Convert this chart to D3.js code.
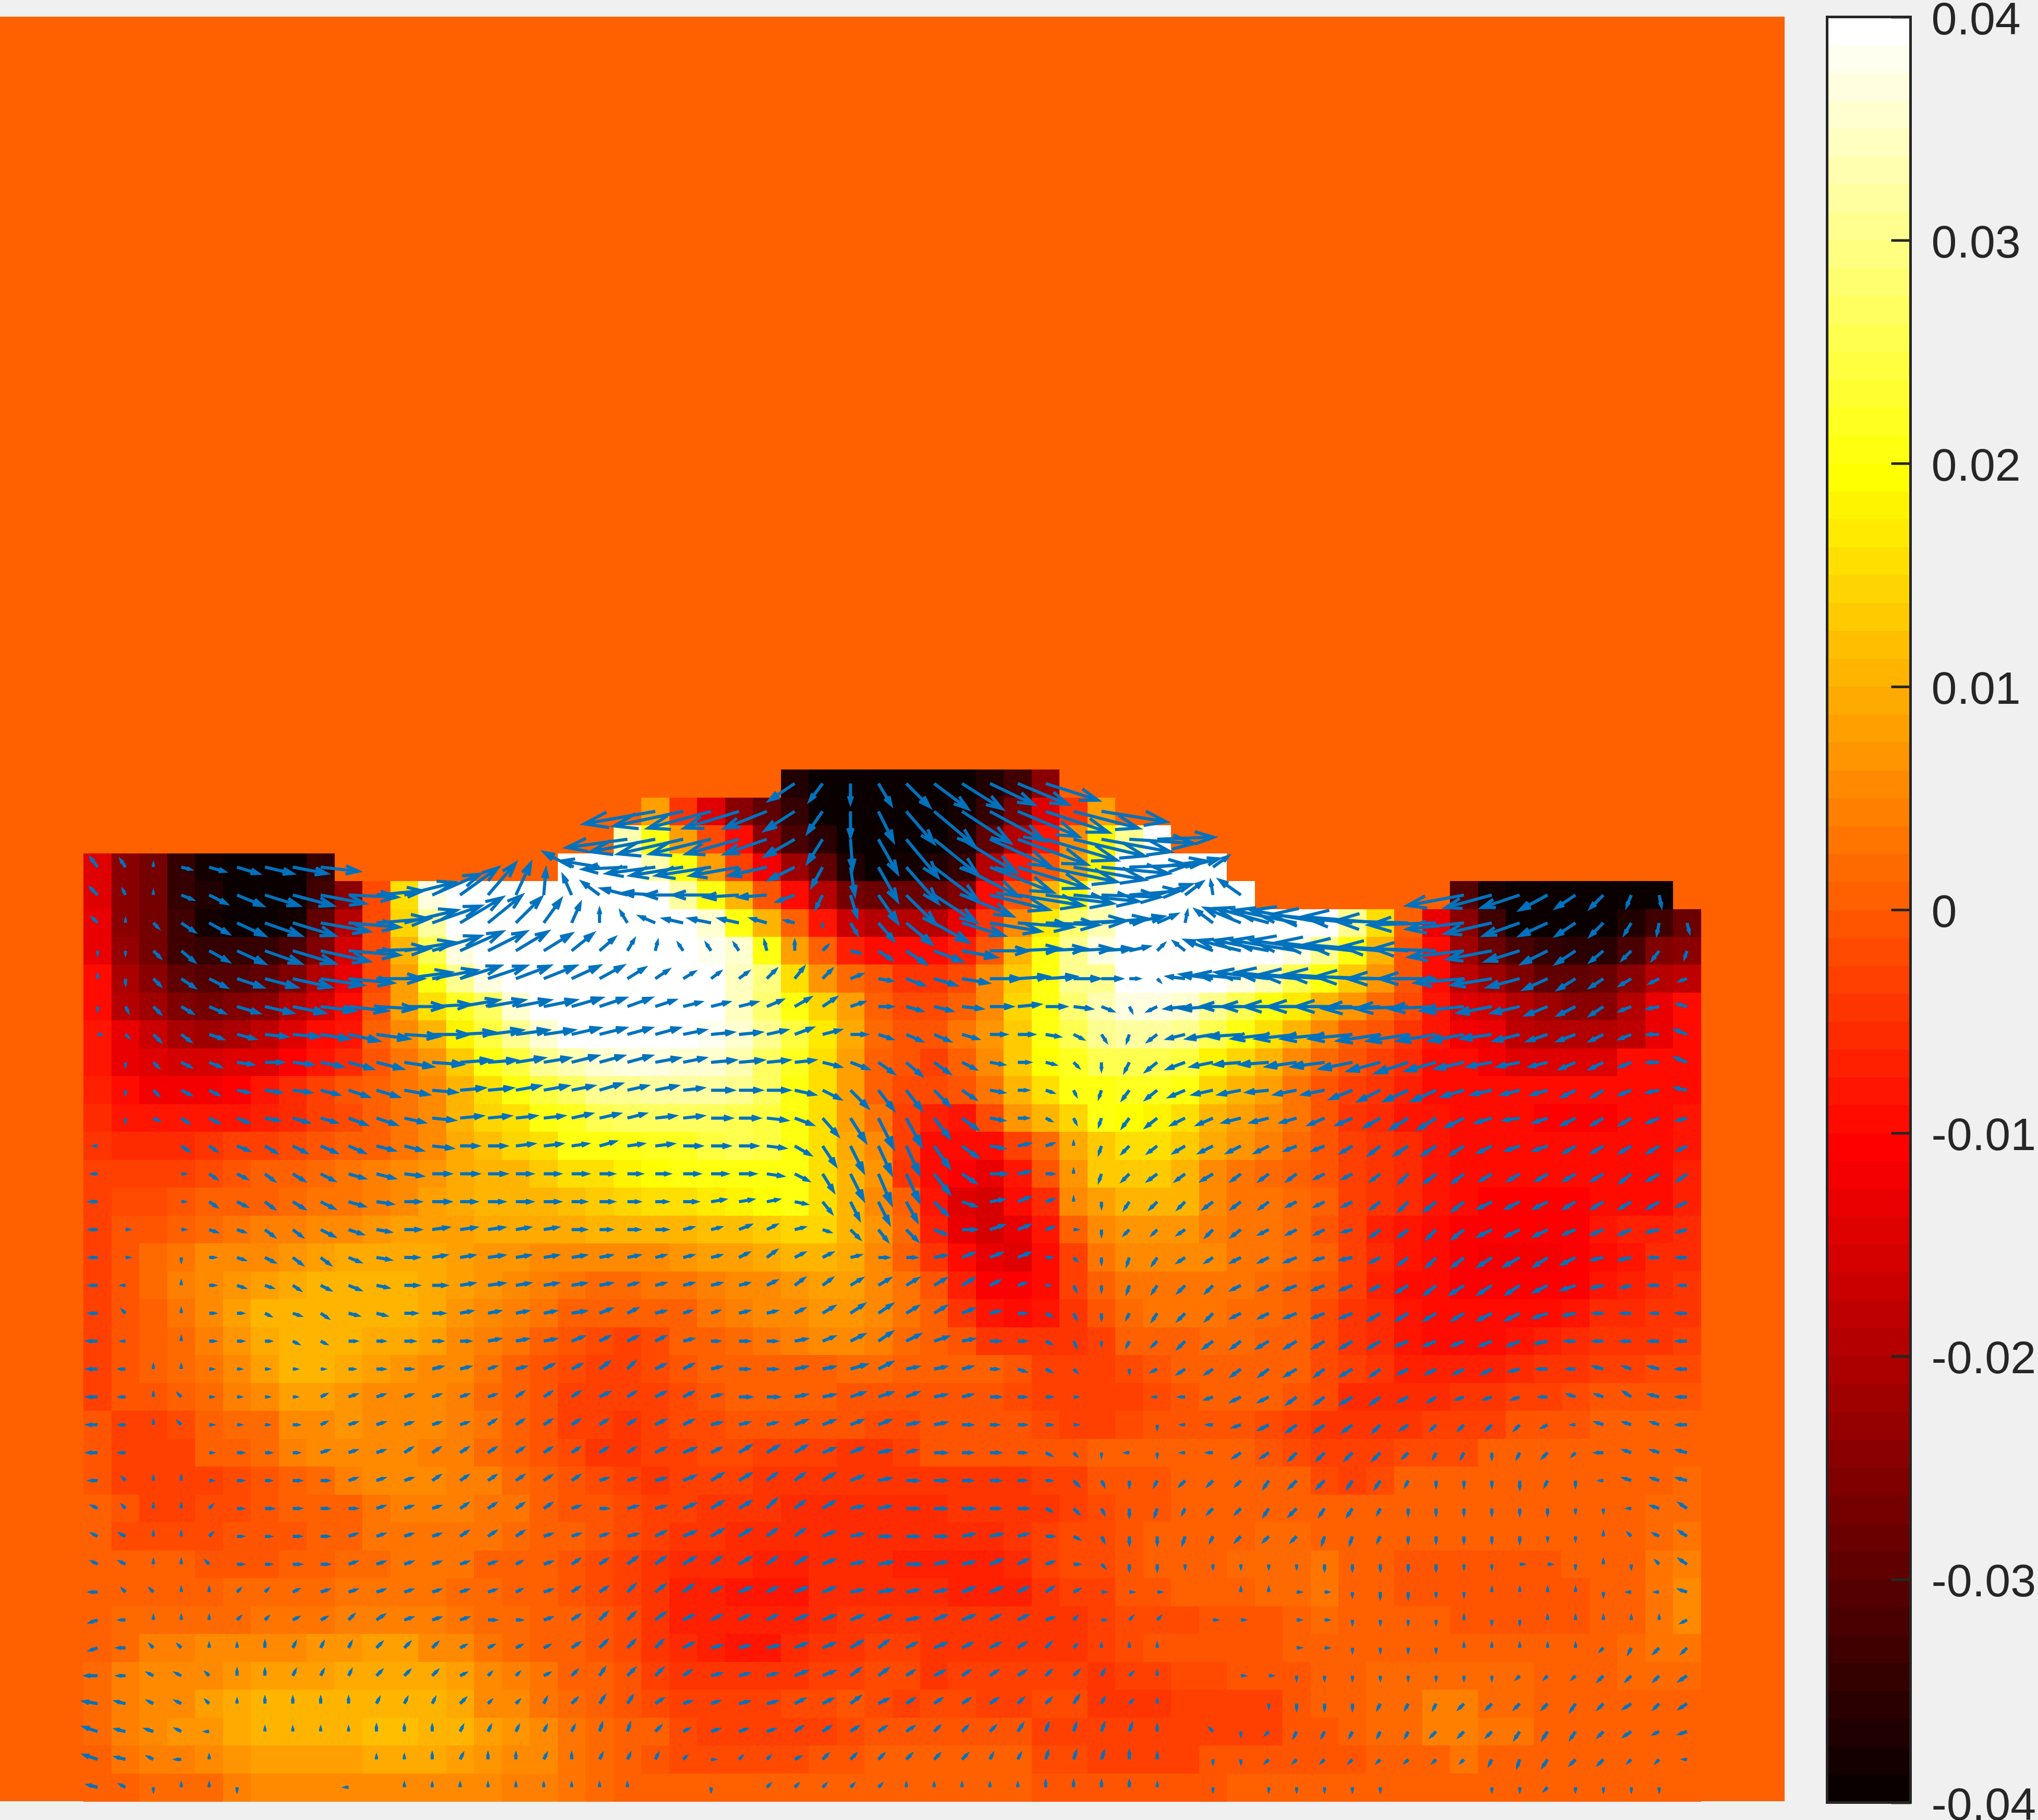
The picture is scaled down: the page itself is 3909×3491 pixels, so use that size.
<!DOCTYPE html>
<html>
<head>
<meta charset="utf-8">
<title>Field with quiver</title>
<script src="https://cdn.jsdelivr.net/npm/d3@7"></script>
<style>
    body { margin: 0; background: #f0f0f0; }
    svg { display: block; }
</style>
</head>
<body>
<svg id="chart"></svg>
<script>
// colorbar ticks
var cbTicks = [-0.04, -0.03, -0.02, -0.01, 0, 0.01, 0.02, 0.03, 0.04];
var cbLabels = ['-0.04', '-0.03', '-0.02', '-0.01', '0', '0.01', '0.02', '0.03', '0.04'];

// grid is 64x64, the rows below are grid rows 27..63, columns 3..60
var gridSize = 64;
var firstRow = 27;
var firstCol = 3;

// field values, in thousandths
var fieldRows = [
[0,0,0,0,0,0,0,0,0, 0,0,0,0,0,0,0,0, 0,0,0,0,0,0,0,0, -37,-39,-40,-40,-40,-40,-39,-37,-33,-25, 0,0,0,0,0,0,0, 0,0,0,0,0,0,0, 0,0,0,0,0,0,0,0,0],
[0,0,0,0,0,0,0,0,0, 0,0,0,0,0,0,0,0, 0,0,0,8,-4,-14,-24,-30, -35,-39,-40,-40,-40,-40,-38,-35,-27,-14, -4,8,0,0,0,0,0, 0,0,0,0,0,0,0, 0,0,0,0,0,0,0,0,0],
[0,0,0,0,0,0,0,0,0, 0,0,0,0,0,0,0,0, 0,0,33,20,8,-2,-10,-24, -32,-36,-40,-40,-40,-40,-37,-30,-20,-8, 5,18,31,40,0,0,0, 0,0,0,0,0,0,0, 0,0,0,0,0,0,0,0,0],
[-14,-24,-27,-35,-38,-40,-40,-40,-35, 0,0,0,0,0,0,0,0, 40,40,40,33,20,8,-3,-12, -22,-29,-37,-39,-38,-37,-34,-20,-8,-1, 8,18,40,40,40,40,0, 0,0,0,0,0,0,0, 0,0,0,0,0,0,0,0,0],
[-14,-24,-27,-35,-37,-40,-40,-39,-33, -24,-2,16,37,40,40,40,40, 40,40,40,40,32,20,10,-1, -10,-19,-27,-28,-28,-28,-26,-10,-1,10, 19,34,40,40,40,40,40, 0,0,0,0,0,0,0, -31,-38,-40,-40,-40,-40,-40,-40,0],
[-13,-24,-27,-33,-38,-40,-39,-38,-30, -19,-2,14,32,40,40,40,40, 40,40,40,40,40,35,20,10, 0,-8,-17,-20,-20,-20,-13,-4,5,17, 28,33,40,40,40,40,40, 40,40,40,30,16,0,-13, -25,-33,-40,-40,-40,-39,-37,-33,-28],
[-13,-23,-27,-33,-35,-35,-34,-32,-26, -16,-2,11,25,37,40,40,40, 40,40,40,40,40,38,35,20, 8,0,-7,-9,-10,-10,-7,-1,10,20, 30,37,40,40,40,40,40, 40,37,30,20,10,-1,-10, -22,-28,-32,-35,-36,-36,-32,-26,-24],
[-10,-21,-24,-29,-31,-31,-29,-26,-20, -13,-2,8,20,30,37,40,40, 40,40,40,40,40,40,34,29, 16,7,2,-1,-4,-4,-2,5,13,21, 30,31,40,40,40,40,37, 33,25,21,13,7,-1,-9, -18,-22,-26,-29,-30,-28,-24,-19,-18],
[-10,-20,-22,-26,-27,-26,-24,-20,-16, -10,-1,8,15,22,27,35,40, 40,40,40,40,40,40,34,28, 21,14,8,0,-2,-2,1,6,14,21, 28,33,37,37,35,31,25, 20,17,11,7,2,-2,-8, -14,-16,-20,-22,-24,-24,-19,-13,-10],
[-8,-13,-17,-21,-22,-21,-18,-14,-10, -8,0,5,11,18,24,30,35, 40,40,40,40,40,38,35,30, 24,17,9,2,-1,-1,3,7,13,20, 26,31,32,32,31,25,20, 15,10,5,1,-1,-4,-8, -12,-13,-18,-20,-20,-20,-18,-13,-10],
[-8,-13,-14,-16,-16,-15,-14,-11,-8, -6,-1,3,7,13,20,24,30, 33,35,37,37,36,36,33,27, 22,16,8,1,-1,-3,0,5,13,19, 22,25,26,26,24,18,14, 11,6,2,-1,-3,-6,-9, -10,-12,-14,-14,-14,-14,-10,-10,-9],
[-7,-10,-12,-12,-12,-11,-8,-6,-3, -1,1,3,6,11,16,21,24, 27,31,31,32,32,32,30,27, 21,16,8,1,-2,-2,-1,3,11,16, 21,21,22,22,20,14,11, 8,3,-1,-3,-5,-7,-9, -9,-10,-10,-10,-10,-10,-10,-10,-9],
[-6,-8,-8,-8,-8,-8,-7,-6,-3, -2,0,3,5,10,14,16,20, 22,25,27,27,27,27,26,24, 20,16,8,3,-3,-7,-8,-2,7,10, 14,20,19,18,15,10,8, 5,3,-1,-4,-6,-8,-8, -9,-10,-10,-11,-11,-11,-10,-9,-8],
[-4,-6,-6,-6,-5,-3,-3,-2,-1, 0,1,3,5,9,12,14,16, 20,20,21,22,22,24,25,24, 21,16,9,5,-3,-9,-10,-9,-3,2, 9,13,15,15,13,9,7, 4,2,-1,-3,-5,-6,-8, -9,-10,-10,-10,-10,-10,-10,-9,-8],
[-3,-3,-3,-3,-2,-1,0,1,2, 3,4,5,7,9,10,11,13, 15,16,18,19,20,21,21,21, 21,16,10,7,-5,-9,-11,-13,-8,-1, 7,13,13,13,10,6,3, 2,1,-1,-3,-5,-6,-8, -9,-10,-10,-10,-10,-10,-10,-9,-7],
[-3,-2,-2,-1,0,0,1,2,3, 3,4,6,8,9,10,10,11, 12,13,14,15,16,17,18,19, 20,15,10,6,0,-8,-14,-16,-10,-6, 5,8,10,10,10,5,3, 3,2,0,-3,-4,-6,-8, -10,-11,-11,-11,-11,-10,-10,-9,-7],
[-3,-1,-1,1,2,3,4,4,5, 6,7,8,8,8,9,9,9, 9,10,10,11,11,12,12,13, 14,14,11,7,2,-7,-13,-16,-13,-8, 0,5,7,7,7,4,3, 3,2,-1,-3,-7,-8,-10, -11,-11,-11,-11,-11,-8,-7,-7,-6],
[-3,-1,2,3,5,6,6,7,8, 9,9,9,9,8,7,7,6, 6,6,6,6,7,8,8,9, 10,10,9,6,1,-4,-10,-13,-14,-10, -3,3,5,6,6,5,3, 3,2,0,-3,-6,-8,-10, -11,-12,-12,-12,-11,-9,-8,-6,-6],
[-3,-1,2,4,6,7,8,9,10, 10,10,10,9,8,7,5,4, 3,2,2,3,3,4,5,6, 7,8,8,6,3,-1,-7,-11,-11,-9, -3,1,3,3,3,3,3, 2,1,-1,-3,-7,-9,-10, -11,-11,-11,-11,-11,-8,-7,-6,-5],
[-3,-1,1,3,6,8,10,10,10, 10,10,10,9,7,6,4,3, 1,0,0,0,1,3,4,5, 6,7,7,5,3,0,-5,-8,-9,-8, -4,-1,2,3,3,3,2, 2,1,-2,-4,-6,-8,-10, -10,-10,-10,-9,-8,-6,-6,-5,-4],
[-3,-1,1,2,4,7,9,10,10, 10,9,9,8,6,4,3,1, -1,-2,-3,-2,0,1,2,3, 4,5,5,4,2,0,-1,-4,-5,-5, -5,-3,0,1,1,2,2, 1,0,-2,-4,-6,-8,-9, -9,-9,-8,-7,-6,-5,-5,-4,-3],
[-3,-1,0,2,3,6,8,10,11, 9,8,7,6,5,3,1,-1, -2,-3,-3,-2,-1,0,0,0, 0,1,2,2,1,0,0,0,-1,-3, -3,-3,-2,-1,0,1,1, 1,0,-2,-3,-5,-7,-7, -7,-7,-6,-5,-4,-3,-3,-2,-2],
[-3,-1,-1,0,2,4,6,8,8, 7,6,6,5,4,2,1,-1, -3,-3,-3,-3,-2,-1,0,0, 0,0,-1,-1,-1,-1,-1,-1,-2,-3, -3,-3,-3,-2,-1,0,0, 0,-1,-2,-6,-6,-6,-6, -4,-4,-3,-3,-2,-1,-1,-1,-1],
[-1,-3,-3,-2,1,2,2,5,6, 7,6,6,5,4,3,1,-1, -3,-3,-4,-3,-2,-2,-1,-1, -1,-1,-1,-2,-2,-1,-1,-1,-1,-2, -3,-3,-2,-1,-1,-1,-1, -2,-3,-4,-4,-4,-4,-3, -3,-3,-1,-1,-1,0,0,1,1],
[-1,-3,-3,-3,1,1,2,4,5, 5,5,5,4,4,2,1,-1, -2,-4,-4,-3,-3,-2,-2,-3, -3,-3,-4,-4,-3,-1,-1,-1,-1,-1, -1,0,0,0,0,0,0, -1,-2,-3,-3,-3,-2,-2, -2,0,1,1,1,1,1,1,1],
[-1,-3,-3,-3,-3,-2,-1,1,2, 4,5,5,5,4,4,2,1, -1,-2,-3,-4,-3,-3,-3,-4, -4,-5,-5,-5,-5,-4,-4,-4,-4,-3, -3,-1,-1,-1,1,1,1, 1,0,-2,-3,-2,0,0, 0,0,0,0,0,0,0,1,2],
[0,-1,-3,-3,-2,-2,-1,0,1, 1,3,4,4,4,3,3,1, -1,-1,-2,-3,-3,-4,-4,-4, -6,-6,-6,-6,-6,-6,-5,-5,-5,-4, -3,-2,-1,-1,0,0,1, 1,1,0,0,0,0,0, 0,0,0,0,0,1,1,2,2],
[1,-2,-2,-2,-2,-1,-1,-1,1, 1,3,3,3,3,3,2,1, 0,-1,-2,-3,-4,-5,-6,-6, -6,-6,-6,-6,-6,-6,-6,-6,-4,-3, -2,-2,-1,0,0,1,1, 2,2,1,1,1,0,0, 0,0,0,0,0,1,1,2,3],
[0,1,1,1,-1,-1,-1,1,1, 2,2,3,3,3,1,1,0, -1,-2,-3,-4,-6,-6,-6,-7, -7,-6,-6,-6,-7,-7,-7,-7,-6,-3, -2,-2,-1,0,0,1,2, 2,2,3,1,1,-1,-1, -1,-1,-1,-1,0,0,1,3,4],
[0,1,1,1,1,2,2,2,2, 3,3,3,3,2,2,1,1, -1,-2,-3,-5,-7,-7,-8,-8, -8,-6,-6,-6,-6,-6,-7,-7,-7,-5, -3,-3,-1,-1,0,0,1, 2,2,3,1,0,-1,-1, -1,-1,-1,-1,-1,0,1,3,5],
[1,2,2,2,2,2,3,3,3, 4,4,4,4,3,2,2,1, 0,-1,-2,-4,-7,-7,-7,-7, -7,-6,-5,-5,-5,-5,-5,-5,-5,-5, -4,-3,-2,-2,-2,-1,-1, -1,0,2,1,1,1,1, -1,-1,-1,-1,-1,1,1,3,5],
[1,2,4,4,5,5,5,6,7, 7,8,8,6,5,3,2,1, 0,-1,-2,-4,-6,-7,-8,-8, -6,-5,-4,-3,-3,-4,-4,-4,-4,-4, -4,-3,-2,-1,-1,-1,-1, -1,1,1,1,1,0,0, 0,0,0,0,0,1,2,3,3],
[2,4,5,5,6,7,8,8,8, 9,9,9,9,8,5,4,3, 1,0,-1,-3,-4,-5,-5,-5, -4,-3,-3,-2,-2,-4,-3,-3,-3,-3, -3,-4,-3,-3,-2,-2,-1, -1,-1,1,1,2,2,2, 2,2,2,1,1,0,2,2,2],
[2,4,5,6,8,9,10,10,10, 11,11,11,11,9,6,5,3, 2,0,-1,-2,-3,-3,-3,-3, -2,-2,-1,-2,-3,-2,-2,-3,-3,-2, -2,-4,-4,-4,-3,-3,-3, -3,-1,0,1,2,2,4, 4,2,2,1,1,0,0,0,0],
[2,4,5,7,7,9,10,10,11, 11,12,12,10,10,8,7,6, 3,2,1,0,-2,-3,-3,-3, -3,-3,-2,-1,-1,-1,-1,-1,-1,-3, -3,-3,-3,-3,-3,-3,-3, -3,-1,-1,1,2,2,4, 4,3,3,1,1,0,0,0,0],
[1,3,4,4,6,7,8,8,8, 8,9,9,9,8,7,6,6, 3,2,0,-1,-2,-2,-2,-2, -2,-1,-1,0,0,0,0,0,0,-2, -2,-3,-3,-3,-3,-1,-1, -1,-1,-1,-1,0,0,1, 3,1,1,1,0,0,0,0,0],
[0,1,2,2,2,4,5,5,5, 5,5,5,5,5,5,4,4, 3,2,1,1,1,1,0,0, 0,0,0,0,0,0,0,0,0,-1, -1,-1,-1,-1,-1,-1,0, 0,0,0,0,0,1,1, 1,1,1,1,1,0,0,0,0]
];

// horizontal velocity
var uRows = [
[0,0,0,0,0,0,0,0,0, 0,0,0,0,0,0,0,0, 0,0,0,0,0,0,0,0, -12,-6,0,6,11,16,19,21,24,25, 0,0,0,0,0,0,0, 0,0,0,0,0,0,0, 0,0,0,0,0,0,0,0,0],
[0,0,0,0,0,0,0,0,0, 0,0,0,0,0,0,0,0, 0,0,0,-34,-33,-30,-26,-20, -14,-7,0,7,13,19,23,26,29,30, 31,31,0,0,0,0,0, 0,0,0,0,0,0,0, 0,0,0,0,0,0,0,0,0],
[0,0,0,0,0,0,0,0,0, 0,0,0,0,0,0,0,0, 0,0,-29,-31,-31,-29,-25,-20, -14,-7,1,9,15,21,26,29,33,34, 34,33,31,27,0,0,0, 0,0,0,0,0,0,0, 0,0,0,0,0,0,0,0,0],
[-3,-2,0,4,7,10,13,16,18, 0,0,0,0,0,0,0,0, -13,-18,-21,-23,-25,-26,-23,-18, -12,-5,2,9,15,21,27,30,33,34, 34,32,28,23,16,7,0, 0,0,0,0,0,0,0, 0,0,0,0,0,0,0,0,0],
[-3,-1,0,5,8,12,16,19,21, 23,22,24,23,18,13,7,1, -4,-8,-12,-15,-18,-18,-16,-13, -8,-3,3,9,14,20,24,28,31,32, 31,28,24,16,8,-1,-10, 0,0,0,0,0,0,0, -27,-22,-18,-13,-9,-6,-2,1,0],
[-2,0,2,6,9,13,17,20,23, 24,25,25,23,20,16,12,8, 4,0,-3,-7,-9,-10,-9,-7, -4,0,3,7,12,16,20,24,26,25, 25,22,16,9,1,-8,-17, -25,-30,-35,-39,-37,-35,-32, -27,-22,-17,-13,-9,-6,-3,-1,1],
[0,0,3,6,9,13,17,20,23, 24,25,24,23,20,18,15,13, 10,7,3,1,-2,-2,-2,-1, 0,2,4,6,9,13,16,18,20,19, 18,14,9,3,-5,-13,-20, -26,-31,-35,-36,-36,-32,-30, -26,-21,-16,-12,-9,-6,-4,-3,-1],
[0,0,3,6,8,12,15,18,20, 21,22,22,21,19,18,16,15, 13,11,8,6,5,4,4,4, 4,4,5,6,8,10,12,14,14,14, 12,9,4,1,-8,-15,-21, -25,-29,-31,-32,-31,-29,-27, -23,-19,-15,-11,-8,-6,-5,-4,-3],
[0,1,3,5,7,10,13,15,16, 18,18,19,18,18,17,16,15, 14,12,11,9,8,8,8,7, 7,6,6,6,7,8,9,10,10,9, 8,5,1,-4,-9,-15,-19, -22,-25,-27,-27,-27,-25,-22, -20,-16,-13,-10,-8,-6,-5,-5,-4],
[1,1,3,4,6,8,10,12,13, 14,15,16,17,16,16,15,14, 13,12,11,11,10,10,10,9, 8,8,7,6,7,7,7,7,7,6, 4,2,-1,-4,-8,-12,-15, -17,-19,-20,-20,-20,-19,-18, -16,-14,-12,-9,-8,-6,-5,-5,-5],
[0,0,2,4,5,7,8,9,10, 11,12,13,14,14,13,13,12, 12,11,11,11,10,11,11,10, 9,8,8,7,7,7,6,6,5,4, 2,0,-2,-5,-8,-10,-12, -13,-14,-15,-15,-15,-15,-14, -13,-11,-10,-8,-7,-6,-5,-5,-5],
[0,0,2,4,4,5,7,8,8, 9,10,11,11,11,11,11,11, 10,10,9,10,9,10,10,10, 9,8,8,7,7,7,6,6,4,3, 1,-1,-3,-5,-7,-9,-10, -10,-10,-10,-10,-10,-11,-11, -10,-9,-8,-7,-6,-5,-5,-5,-5],
[0,0,2,3,4,5,6,7,7, 8,9,9,10,10,10,9,9, 9,9,8,9,9,9,9,9, 8,7,7,7,7,7,7,6,4,2, 1,-1,-3,-5,-6,-7,-8, -8,-7,-7,-7,-7,-8,-8, -8,-7,-7,-6,-6,-5,-5,-5,-4],
[-1,0,0,3,3,5,5,6,7, 7,8,8,9,8,8,8,8, 7,7,7,8,8,8,8,8, 7,6,6,6,6,7,7,6,5,3, 0,-1,-3,-4,-5,-6,-6, -6,-5,-5,-5,-5,-6,-6, -6,-6,-6,-6,-5,-5,-5,-5,-4],
[-2,0,0,1,3,4,4,5,6, 7,8,8,8,8,8,7,7, 7,6,6,6,7,7,7,7, 6,5,6,6,6,7,6,7,5,3, 0,-1,-3,-4,-4,-5,-4, -4,-4,-4,-4,-4,-4,-5, -5,-5,-5,-5,-5,-5,-5,-5,-4],
[-3,0,0,1,3,4,4,5,6, 7,7,7,8,7,7,7,7, 6,6,5,5,6,6,6,5, 5,4,4,5,5,6,6,6,5,3, 0,0,-2,-3,-3,-4,-4, -4,-4,-4,-4,-4,-4,-5, -5,-6,-6,-6,-5,-5,-5,-5,-4],
[-3,1,0,1,3,3,4,4,6, 6,6,7,7,7,7,6,6, 6,5,5,5,4,4,5,4, 4,3,4,4,5,5,6,6,5,3, 1,0,-2,-2,-3,-3,-4, -4,-4,-4,-4,-4,-4,-4, -5,-6,-6,-6,-5,-5,-5,-5,-4],
[-3,1,0,0,2,3,4,4,4, 5,6,6,6,6,7,6,6, 6,5,5,4,4,4,4,4, 4,4,4,4,4,5,5,5,5,2, 1,0,-1,-2,-3,-3,-4, -4,-5,-4,-5,-4,-4,-4, -5,-6,-7,-6,-6,-5,-5,-4,-4],
[-3,-1,0,0,2,3,3,3,4, 5,5,6,6,6,7,6,6, 6,5,4,4,4,4,4,4, 4,4,5,5,5,5,5,4,3,1, 1,0,-1,-2,-3,-3,-4, -4,-5,-5,-5,-4,-5,-5, -6,-6,-6,-6,-6,-5,-4,-4,-3],
[-3,-1,0,0,2,2,2,3,3, 4,4,5,5,5,5,5,5, 6,5,4,4,3,3,4,4, 4,5,6,6,5,5,5,4,3,2, 1,0,-1,-2,-3,-3,-4, -4,-5,-5,-5,-5,-5,-5, -5,-6,-6,-6,-5,-4,-4,-3,-4],
[-4,-1,0,0,2,2,2,2,2, 3,3,4,4,4,5,5,5, 5,4,4,4,4,3,4,4, 5,5,6,6,6,6,5,4,3,2, 1,0,-1,-2,-3,-4,-4, -5,-5,-5,-5,-5,-5,-5, -5,-5,-5,-5,-4,-4,-4,-4,-4],
[-4,-2,0,0,1,1,1,1,1, 2,3,3,4,4,3,4,4, 4,4,3,4,4,4,4,4, 5,5,7,6,5,5,4,3,3,2, 1,0,0,-2,-3,-3,-4, -4,-5,-4,-5,-4,-4,-4, -4,-4,-4,-4,-3,-4,-3,-4,-4],
[-4,-2,0,-1,1,1,1,1,2, 3,3,3,3,3,3,3,3, 3,4,3,4,4,4,5,5, 5,5,6,6,5,5,4,4,3,2, 1,0,0,-1,-2,-3,-4, -4,-4,-4,-5,-4,-4,-3, -3,-3,-3,-3,-3,-3,-3,-4,-4],
[-4,-2,0,-1,1,1,1,2,2, 3,3,3,3,3,3,3,3, 3,3,3,4,4,4,4,4, 5,5,5,5,5,5,4,3,3,2, 1,0,0,0,-1,-2,-3, -4,-4,-4,-4,-3,-3,-2, -2,-2,-2,-2,-1,-3,-3,-3,-4],
[-4,-2,0,0,1,2,2,2,3, 3,3,3,3,3,3,3,3, 3,3,3,4,5,4,5,5, 5,5,5,5,4,5,4,4,3,2, 1,0,-1,0,-1,-2,-3, -3,-3,-3,-3,-3,-2,-1, -1,0,-1,-2,-1,-3,-3,-3,-4],
[-3,-1,0,0,1,2,2,3,3, 3,3,3,3,3,3,3,3, 3,3,3,4,5,5,5,4, 4,5,5,5,5,5,4,4,3,2, 2,1,0,-1,-2,-2,-2, -2,-3,-3,-2,-2,-1,0, 0,0,0,-1,0,-1,-3,-3,-4],
[-2,-1,0,0,1,2,3,3,3, 3,3,3,3,3,3,3,3, 3,3,4,4,5,5,5,4, 4,5,5,5,5,5,5,4,4,2, 2,1,0,-1,-1,-2,-2, -2,-3,-2,-2,-1,0,0, 0,0,0,0,0,0,-1,-3,-3],
[-2,-2,0,0,1,2,2,3,3, 3,3,3,3,3,3,3,3, 3,3,4,4,5,5,5,4, 4,5,5,5,5,5,5,5,4,3, 2,1,0,0,-1,-1,-2, -2,-2,-1,-1,-1,0,0, 0,0,0,0,0,0,-1,-2,-3],
[-2,-2,0,0,-1,2,2,3,3, 3,3,3,3,3,3,2,3, 3,3,4,4,5,4,5,4, 5,5,5,6,6,5,5,5,4,3, 2,1,0,0,0,0,0, 0,0,0,0,0,0,0, 0,0,1,1,0,0,0,-1,-3],
[-3,-1,-1,0,0,1,1,2,3, 3,3,3,3,3,3,2,3, 3,3,3,4,4,4,5,4, 5,5,5,6,5,5,5,5,4,3, 2,1,1,1,0,0,0, 0,1,1,0,0,0,0, 0,0,0,0,0,0,-1,-1,-3],
[-3,-2,0,0,0,1,1,2,2, 2,3,3,3,3,3,2,3, 3,3,3,4,4,4,4,4, 5,5,5,5,5,5,5,4,4,3, 1,1,1,1,0,1,1, 0,1,1,0,0,0,0, 0,0,0,0,0,0,0,0,-2],
[-3,-3,-1,-1,0,0,0,1,1, 1,2,2,2,2,2,2,2, 3,3,3,3,4,4,4,5, 5,5,5,4,4,5,4,4,3,2, 1,0,0,0,0,0,0, 0,1,1,0,0,0,0, 0,0,0,0,0,-1,-1,-2,-2],
[-5,-3,-2,-2,-1,0,0,1,1, 1,2,2,2,2,1,1,2, 2,2,3,3,3,4,4,4, 5,5,4,4,3,4,3,3,3,2, 2,1,1,0,0,0,1, 1,0,0,0,0,0,0, 0,0,-1,-1,-1,-2,-2,-2,-3],
[-6,-4,-2,-2,-1,0,0,0,0, 0,1,1,1,2,1,1,1, 2,2,2,3,3,3,4,4, 4,4,4,4,3,3,3,3,2,2, 2,1,1,0,0,0,0, 0,0,0,0,-1,-1,-1, -2,-2,-2,-2,-2,-2,-3,-2,-3],
[-6,-4,-3,-2,-1,0,0,0,0, 0,0,0,0,1,1,1,1, 1,1,1,2,2,3,3,3, 3,3,3,3,3,2,2,2,2,1, 1,1,1,0,0,-1,0, -1,-1,-1,-1,-1,-1,-2, -2,-2,-2,-2,-2,-2,-3,-2,-3],
[-6,-4,-2,-2,0,0,0,0,0, 0,0,0,0,1,0,0,1, 0,1,1,1,1,1,1,1, 2,2,2,2,2,2,2,1,1,1, 1,1,0,0,0,0,0, -1,-1,-1,-1,-1,-1,-1, -1,-1,-1,-2,-2,-2,-1,-1,-1],
[-4,-2,0,0,0,0,0,0,0, -1,0,0,0,0,0,0,0, 0,0,0,0,0,0,0,1, 1,1,1,1,0,0,0,0,0,0, 0,0,0,0,0,0,0, 0,0,0,0,0,0,0, 0,0,0,-1,0,0,0,0,0]
];

// vertical velocity, positive is up
var vRows = [
[0,0,0,0,0,0,0,0,0, 0,0,0,0,0,0,0,0, 0,0,0,0,0,0,0,0, -8,-8,-9,-10,-11,-12,-12,-10,-10,-8, 0,0,0,0,0,0,0, 0,0,0,0,0,0,0, 0,0,0,0,0,0,0,0,0],
[0,0,0,0,0,0,0,0,0, 0,0,0,0,0,0,0,0, 0,0,0,-6,-7,-8,-8,-8, -9,-10,-12,-14,-15,-16,-15,-14,-12,-10, -8,-5,0,0,0,0,0, 0,0,0,0,0,0,0, 0,0,0,0,0,0,0,0,0],
[0,0,0,0,0,0,0,0,0, 0,0,0,0,0,0,0,0, 0,0,-4,-6,-7,-7,-7,-7, -8,-11,-14,-16,-18,-17,-16,-13,-12,-10, -8,-6,-2,1,0,0,0, 0,0,0,0,0,0,0, 0,0,0,0,0,0,0,0,0],
[4,3,1,-1,-2,-3,-3,-3,-2, 0,0,0,0,0,0,0,0, 7,3,-1,-3,-4,-4,-4,-4, -6,-9,-13,-16,-17,-16,-14,-12,-10,-7, -6,-3,1,3,4,5,0, 0,0,0,0,0,0,0, 0,0,0,0,0,0,0,0,0],
[3,2,1,-2,-4,-5,-5,-5,-4, -1,2,6,10,13,15,15,12, 9,6,3,1,0,0,-1,-1, -3,-6,-10,-13,-14,-13,-10,-7,-5,-4, -3,-1,2,5,6,6,7, 0,0,0,0,0,0,0, -5,-6,-6,-7,-6,-6,-5,-5,0],
[2,1,-2,-4,-5,-6,-6,-6,-4, -2,2,6,8,12,13,12,11, 9,6,5,3,2,2,2,2, 1,-1,-5,-8,-10,-9,-6,-4,-2,-1, 1,2,3,4,5,6,7, 7,6,6,4,3,1,-1, -3,-5,-6,-6,-6,-6,-5,-5,-4],
[-1,-1,-3,-5,-5,-6,-6,-6,-5, -2,1,4,7,9,9,9,8, 8,6,5,4,3,3,3,4, 4,2,-1,-4,-6,-5,-3,0,1,1, 1,1,2,3,4,5,5, 5,5,5,4,3,2,1, -3,-4,-5,-6,-6,-5,-4,-4,-3],
[1,-2,-3,-4,-4,-4,-4,-4,-3, -2,0,3,4,6,6,6,6, 6,6,5,4,3,3,3,4, 5,4,2,-1,-3,-3,-2,0,1,1, 0,0,0,-1,1,2,2, 3,3,2,2,1,0,0, -2,-3,-4,-5,-5,-4,-3,-2,-1],
[-1,-2,-3,-3,-3,-3,-3,-3,-2, -2,-1,0,1,3,3,3,3, 4,4,4,3,2,2,2,3, 4,4,2,0,-2,-2,-1,0,1,0, -1,-2,-2,-2,-1,-1,0, 0,0,0,0,-1,-1,-1, -2,-3,-3,-4,-4,-4,-2,-1,1],
[0,-1,-3,-3,-2,-2,-1,-1,-2, -3,-2,-1,0,1,2,2,2, 3,3,3,3,2,1,1,2, 3,2,0,-2,-3,-3,-2,0,0,-1, -2,-3,-3,-3,-2,-2,-1, -2,-2,-2,-2,-3,-3,-3, -3,-2,-3,-3,-3,-3,-2,0,2],
[0,-1,-2,-2,-2,-1,0,-1,-2, -3,-3,-2,-1,1,1,2,2, 3,3,3,2,2,1,1,1, 1,-2,-3,-5,-6,-5,-3,-1,0,-1, -2,-3,-4,-4,-3,-2,-1, -1,-2,-2,-3,-4,-5,-4, -3,-2,-2,-2,-3,-3,-2,0,2],
[0,-1,-2,-2,-2,-1,-1,-1,-2, -3,-3,-2,-1,1,1,2,2, 2,3,2,2,1,0,0,0, -2,-4,-8,-9,-9,-7,-4,-1,0,-1, -2,-3,-4,-4,-3,-2,-2, -1,-2,-2,-4,-5,-5,-5, -3,-2,-2,-2,-3,-3,-2,-1,1],
[0,-1,-1,-2,-2,-2,-1,-2,-2, -3,-3,-2,-1,1,1,1,1, 2,2,2,1,1,0,0,-1, -3,-8,-11,-14,-13,-9,-5,-1,0,-1, -2,-3,-4,-4,-3,-3,-2, -2,-2,-3,-3,-4,-5,-5, -4,-2,-1,-2,-3,-3,-3,-2,-1],
[0,0,0,-2,-2,-2,-3,-3,-3, -3,-2,-2,-1,0,0,1,1, 1,2,1,1,0,0,0,-1, -4,-9,-12,-13,-13,-10,-5,-1,1,1, 1,-3,-3,-3,-3,-3,-3, -3,-2,-2,-3,-4,-4,-4, -4,-3,-2,-2,-3,-3,-3,-3,-2],
[0,0,0,0,-2,-2,-3,-3,-3, -2,-2,-1,0,0,0,0,0, 0,0,0,0,0,0,0,-1, -3,-8,-12,-14,-13,-9,-4,0,1,0, 1,-3,-3,-3,-3,-3,-3, -3,-3,-2,-2,-3,-4,-4, -4,-3,-3,-3,-3,-3,-4,-3,-3],
[0,0,0,0,-2,-2,-3,-3,-3, -2,-1,0,0,0,0,0,0, 0,0,0,0,0,1,1,1, -1,-5,-8,-10,-9,-6,-2,1,2,1, 1,-2,-3,-3,-3,-3,-3, -3,-2,-2,-2,-3,-4,-4, -4,-3,-3,-3,-3,-3,-3,-3,-2],
[0,0,0,0,-1,-1,-3,-3,-3, -2,-1,0,1,1,1,1,1, 0,0,0,0,1,1,2,2, 1,-1,-4,-5,-5,-2,0,2,2,1, 0,-2,-2,-2,-2,-3,-3, -2,-2,-2,-1,-3,-3,-4, -4,-3,-3,-3,-2,-2,-2,-1,-1],
[0,0,0,-1,0,-1,-2,-3,-3, -2,-1,0,1,1,1,1,1, 1,1,1,1,1,1,2,3, 2,2,1,0,0,1,2,2,2,0, -1,-2,-3,-3,-2,-2,-2, -2,-2,-1,-1,-2,-3,-4, -4,-4,-4,-4,-3,-1,-1,0,0],
[0,0,0,1,0,-1,-1,-2,-2, -2,-1,0,0,1,1,1,1, 1,1,1,1,1,1,1,2, 3,3,3,3,3,3,3,2,1,0, -2,-2,-3,-3,-3,-3,-2, -2,-2,-2,-2,-2,-3,-4, -4,-4,-4,-3,-2,-1,-1,0,0],
[0,1,0,1,0,0,-1,-1,-2, -1,-1,0,0,1,1,1,1, 1,2,2,1,1,1,1,1, 2,3,4,4,3,3,2,1,0,-1, -2,-2,-2,-3,-3,-3,-2, -2,-2,-2,-2,-3,-3,-3, -3,-3,-3,-2,-1,0,0,0,0],
[0,0,0,1,0,0,0,-1,-1, 0,0,0,0,0,1,1,1, 2,2,2,2,1,0,0,0, 1,2,3,4,3,2,1,0,0,-1, -2,-1,-2,-2,-3,-3,-3, -3,-3,-3,-3,-3,-2,-2, -2,-2,-2,-1,0,0,0,0,0],
[0,0,1,1,0,0,0,0,0, 0,0,0,1,1,1,1,2, 2,3,3,2,2,1,0,0, 1,1,2,3,1,1,1,0,-1,-1, -1,0,-1,-1,-2,-2,-3, -3,-3,-3,-3,-3,-2,-2, -2,-2,-1,0,0,1,1,1,0],
[0,0,1,1,0,0,0,0,1, 1,1,1,1,1,1,2,2, 2,2,2,2,2,1,0,0, 1,1,2,2,2,1,1,0,0,0, 0,0,0,0,0,-1,-2, -2,-3,-3,-3,-3,-2,-2, -1,-1,-1,0,1,1,2,1,0],
[0,0,1,1,0,0,0,0,1, 1,1,1,1,1,2,2,2, 2,2,2,2,2,1,1,1, 2,2,2,2,1,1,0,0,0,0, 0,0,0,-1,0,0,-1, -2,-3,-3,-3,-3,-2,-2, -2,-2,-2,-1,0,1,1,1,0],
[0,0,0,0,0,0,0,0,1, 1,1,2,2,2,2,2,2, 2,2,2,2,2,2,3,3, 3,2,2,1,1,0,0,0,0,-1, -1,-1,0,-1,0,0,-2, -2,-3,-3,-3,-3,-2,-2, -2,-2,-2,-2,-1,0,1,1,1],
[0,1,1,1,0,0,0,0,0, 1,1,1,2,2,2,2,2, 2,1,1,1,2,3,3,3, 3,3,2,1,0,0,0,0,0,0, -2,-2,-2,-2,-2,-2,-2, -3,-3,-3,-3,-3,-2,-2, -2,-2,-3,-2,-2,0,1,1,1],
[1,1,1,1,1,0,0,0,0, 0,1,1,1,2,2,2,2, 1,0,1,1,2,3,3,4, 3,3,1,1,0,0,0,0,0,-1, -2,-2,-3,-3,-2,-2,-2, -3,-3,-3,-3,-2,-2,-2, -2,-2,-2,-2,-1,-1,0,1,2],
[1,1,1,1,1,0,0,0,0, 1,1,1,1,2,2,2,1, 1,1,1,2,2,3,3,3, 3,2,1,0,0,0,1,1,1,0, -1,-2,-3,-3,-3,-2,-2, -2,-2,-3,-3,-2,-2,-2, -2,-2,-2,-1,-1,1,1,1,2],
[1,1,1,1,1,0,0,0,0, 1,1,1,1,1,1,1,1, 2,2,3,3,3,3,3,3, 3,2,1,1,0,1,1,2,2,1, 0,-1,-2,-2,-1,-1,-1, -1,-1,-2,-2,-2,-2,-2, -1,-1,0,0,-1,1,-1,1,2],
[0,1,1,1,1,1,1,1,1, 1,1,1,1,1,1,1,1, 2,2,3,3,3,2,2,2, 2,2,1,1,1,1,2,2,2,2, 1,0,0,0,0,0,1, 1,0,0,-1,-2,-2,-1, -1,1,1,1,1,-1,0,0,1],
[-1,0,1,1,1,1,1,1,1, 2,2,1,1,1,0,0,1, 2,3,3,3,2,2,2,2, 2,2,2,2,1,2,2,2,2,1, 1,0,1,1,0,0,0, 0,0,0,-1,-1,-1,-1, 1,-1,-1,1,1,1,1,1,-1],
[-1,0,1,1,1,1,2,2,2, 2,2,2,2,1,1,1,1, 2,3,3,3,2,1,1,1, 2,2,3,3,2,2,2,2,2,2, 1,1,1,1,0,0,0, 0,0,0,-1,-1,-1,-1, 1,1,1,1,1,-1,-2,-2,-2],
[0,0,1,1,1,2,2,2,2, 2,2,2,2,1,1,1,1, 2,3,3,3,2,1,1,1, 2,2,3,3,2,2,2,2,2,2, 2,2,1,1,0,0,0, 0,-1,-1,-1,-1,-1,-1, -1,-1,-1,-1,-1,-2,-2,-2,-2],
[1,1,1,1,1,1,2,2,2, 2,2,2,2,2,1,1,2, 2,3,3,2,1,1,1,1, 2,2,3,2,2,2,2,2,2,2, 3,2,1,1,0,0,0, -1,-2,-2,-2,-2,-2,-2, -2,-2,-2,-2,-3,-2,-2,-2,-2],
[2,1,1,1,0,0,1,1,1, 1,2,2,2,2,2,2,2, 2,3,3,2,1,1,1,1, 2,2,2,2,2,2,2,2,3,3, 3,3,3,2,0,1,-1, -1,-2,-2,-2,-2,-2,-2, -2,-2,-3,-3,-3,-2,-2,-1,-1],
[2,1,1,0,1,0,0,0,0, 0,1,1,2,2,2,2,2, 2,2,2,2,1,0,1,1, 1,2,2,2,2,2,2,2,2,3, 3,3,3,2,0,-1,-1, -1,-1,-1,-1,-1,-1,-1, -1,-2,-3,-3,-2,-2,-1,-1,0],
[1,1,-1,1,1,-1,0,0,0, 0,0,1,1,1,1,1,1, 1,1,1,0,0,-1,0,1, 1,1,1,1,1,1,1,1,1,2, 2,2,2,1,0,-1,0, -1,-1,-1,-1,-1,0,0, 0,-1,-1,-1,-1,-1,-1,-1,0]
];

( function () {

    window.addEventListener('load', init);

    function init() {

        var width = 3909;
        var height = 3491;
        var plotSize = 3423;
        var plotTop = 32;
        var arrowScale = 4;
        var arrowAlpha = 0.33;
        var arrowBeta = 0.33;

        var svg = d3.select('#chart')
            .attr('width', width)
            .attr('height', height);

        // hot colormap, 64 levels
        var hotLevels = d3.range(64).map(function (i) {
            var k = i + 1;
            var r = Math.min(1, k / 24);
            var g = Math.max(0, Math.min(1, (k - 24) / 24));
            var b = Math.max(0, Math.min(1, (k - 48) / 16));
            return d3.rgb(r * 255, g * 255, b * 255).formatHex();
        });

        var color = d3.scaleQuantize().domain([-40, 40]).range(hotLevels);

        var xScale = d3.scaleBand()
            .domain(d3.range(gridSize))
            .range([0, plotSize]);

        var yScale = d3.scaleBand()
            .domain(d3.range(gridSize))
            .range([plotTop, plotTop + plotSize]);

        // whole image area is the zero colour, cells outside the shape are not stored
        svg.append('rect')
            .attr('x', 0)
            .attr('y', plotTop)
            .attr('width', plotSize)
            .attr('height', plotSize)
            .attr('fill', color(0));

        var cells = [];
        fieldRows.forEach(function (row, i) {
            row.forEach(function (value, j) {
                cells.push({
                    row: firstRow + i,
                    col: firstCol + j,
                    value: value,
                    u: uRows[i][j] * arrowScale,
                    v: -vRows[i][j] * arrowScale
                });
            });
        });

        svg.append('g')
            .attr('shape-rendering', 'crispEdges')
            .selectAll('rect')
            .data(cells)
            .enter()
            .append('rect')
            .attr('x', function (d) { return xScale(d.col); })
            .attr('y', function (d) { return yScale(d.row); })
            .attr('width', xScale.bandwidth() + 0.5)
            .attr('height', yScale.bandwidth() + 0.5)
            .attr('fill', function (d) { return color(d.value); });

        // quiver, same head shape as matlab
        svg.append('g')
            .attr('fill', 'none')
            .attr('stroke', '#0072bd')
            .attr('stroke-width', 6)
            .selectAll('path')
            .data(cells.filter(function (d) { return d.u !== 0 || d.v !== 0; }))
            .enter()
            .append('path')
            .attr('d', function (d) {
                var x0 = xScale(d.col) + xScale.bandwidth() / 2;
                var y0 = yScale(d.row) + yScale.bandwidth() / 2;
                var x1 = x0 + d.u;
                var y1 = y0 + d.v;
                var p = d3.path();
                p.moveTo(x0, y0);
                p.lineTo(x1, y1);
                p.moveTo(x1 - arrowAlpha * (d.u + arrowBeta * d.v), y1 - arrowAlpha * (d.v - arrowBeta * d.u));
                p.lineTo(x1, y1);
                p.lineTo(x1 - arrowAlpha * (d.u - arrowBeta * d.v), y1 - arrowAlpha * (d.v + arrowBeta * d.u));
                return p.toString();
            });

        // colorbar
        var cbLeft = 3504.5;
        var cbRight = 3664.5;
        var cbTop = 32.5;
        var cbBottom = 3457.5;

        var cbScale = d3.scaleLinear()
            .domain([-0.04, 0.04])
            .range([cbBottom, cbTop]);

        var cbBand = d3.scaleBand()
            .domain(d3.range(hotLevels.length))
            .range([cbBottom, cbTop]);

        svg.append('g')
            .attr('shape-rendering', 'crispEdges')
            .selectAll('rect')
            .data(hotLevels)
            .enter()
            .append('rect')
            .attr('x', cbLeft)
            .attr('y', function (d, i) { return cbBand(i); })
            .attr('width', cbRight - cbLeft)
            .attr('height', cbBand.bandwidth() + 0.5)
            .attr('fill', function (d) { return d; });

        svg.append('rect')
            .attr('x', cbLeft)
            .attr('y', cbTop)
            .attr('width', cbRight - cbLeft)
            .attr('height', cbBottom - cbTop)
            .attr('fill', 'none')
            .attr('stroke', '#262626')
            .attr('stroke-width', 5);

        var cbAxis = svg.append('g')
            .attr('transform', 'translate(' + cbRight + ',0)')
            .call(d3.axisRight(cbScale)
                .tickValues(cbTicks)
                .tickSizeInner(-37)
                .tickSizeOuter(0)
                .tickPadding(40)
                .tickFormat(function (d, i) { return cbLabels[i]; }));

        cbAxis.select('.domain').remove();
        cbAxis.selectAll('line')
            .attr('stroke', '#262626')
            .attr('stroke-width', 5);
        cbAxis.selectAll('text')
            .attr('dy', '0.37em')
            .attr('fill', '#262626')
            .style('font-family', '"Liberation Sans", Arial, sans-serif')
            .style('font-size', '88px');
    }
})();
</script>
</body>
</html>
